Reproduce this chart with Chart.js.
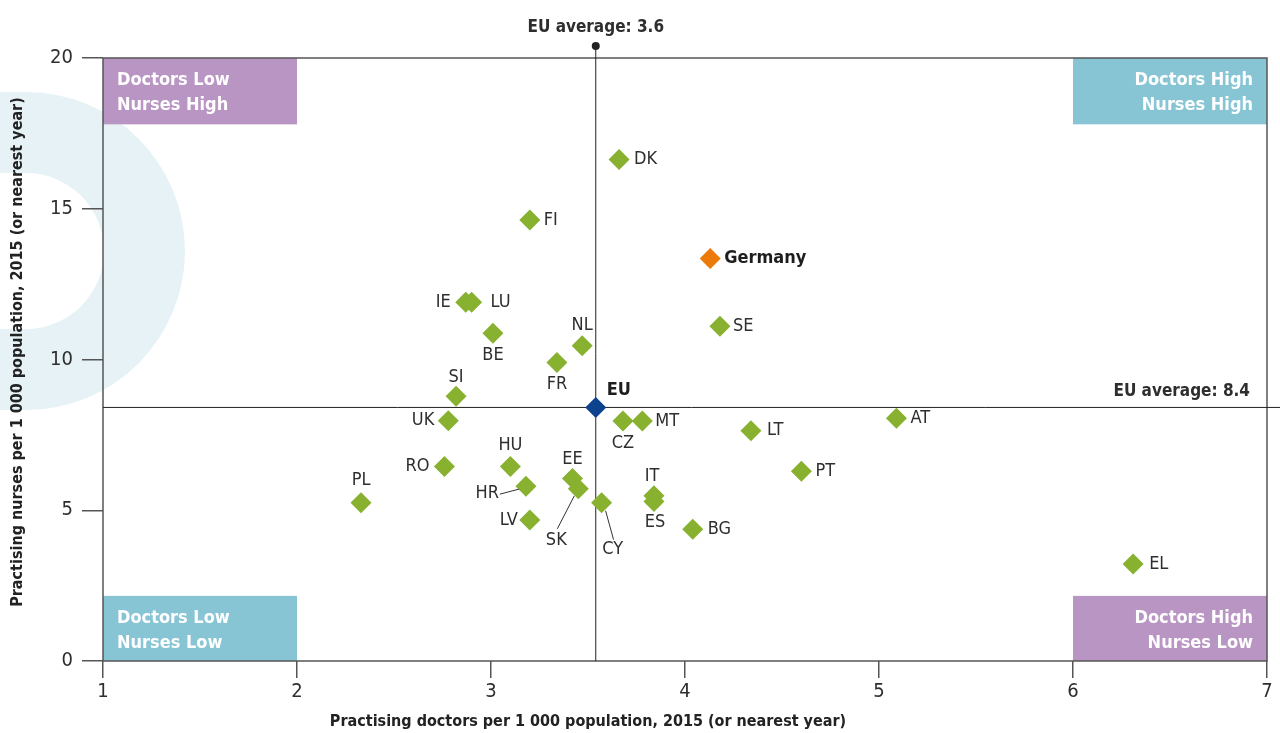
<!DOCTYPE html>
<html>
<head>
<meta charset="utf-8">
<title>Doctors and nurses per 1 000 population</title>
<script src="https://cdn.jsdelivr.net/npm/chart.js"></script>
<style>
  html, body { margin: 0; padding: 0; background: #fff; }
</style>
</head>
<body>
<canvas id="chart" width="1280" height="733"></canvas>
<script>
// values
const countries = ["DK", "FI", "Germany", "IE", "LU", "BE", "SE", "NL", "FR", "SI", "EU", "UK", "CZ", "MT", "LT",
  "AT", "RO", "HU", "PT", "HR", "EE", "SK", "IT", "ES", "CY", "PL", "LV", "BG", "EL"];
const doctors = [3.66, 3.20, 4.13, 2.87, 2.90, 3.01, 4.18, 3.47, 3.34, 2.82, 3.54, 2.78, 3.68, 3.78, 4.34,
  5.09, 2.76, 3.10, 4.60, 3.18, 3.42, 3.45, 3.84, 3.84, 3.57, 2.33, 3.20, 4.04, 6.31];
const nurses = [16.63, 14.63, 13.35, 11.90, 11.90, 10.87, 11.10, 10.46, 9.90, 8.78, 8.41, 7.97, 7.96, 7.96, 7.64,
  8.05, 6.45, 6.45, 6.29, 5.80, 6.05, 5.71, 5.48, 5.29, 5.25, 5.25, 4.68, 4.37, 3.22];
const euDoctors = 3.54;
const euNurses = 8.41;
const xTicks = [1, 2, 3, 4, 5, 6, 7];
const yTicks = [0, 5, 10, 15, 20];

const GREEN = "#87b12f", ORANGE = "#ec7a08", NAVY = "#0d428c";
const TEXT = "#2e2e2e";
const FONT = "'Liberation Sans Narrow', 'DejaVu Sans Condensed', 'Roboto', sans-serif";

// label placement (pixel offsets from the marker), leader = line from label to marker
const labelPos = {
  DK: [15, 0, "left"], FI: [14, 0, "left"], Germany: [14, 0, "left", true], IE: [-15, 0, "right"],
  LU: [19, 0, "left"], BE: [0, 22, "center"], SE: [13, 0, "left"], NL: [0, -20, "center"],
  FR: [0, 22, "center"], SI: [0, -19, "center"], EU: [11, -17, "left", true], UK: [-14, 0, "right"],
  CZ: [0, 22, "center"], MT: [13, 0, "left"], LT: [16, 0, "left"], AT: [14, 0, "left"],
  RO: [-15, 0, "right"], HU: [0, -21, "center"], PT: [14, 0, "left"], HR: [-27, 7, "right"],
  EE: [0, -19, "center"], SK: [-22, 51, "center"], IT: [-2, -19, "center"], ES: [1, 21, "center"],
  CY: [11, 47, "center"], PL: [0, -22, "center"], LV: [-12, 0, "right"], BG: [15, 0, "left"],
  EL: [16, 0, "left"]
};
const leaders = {
  HR: [[-26, 8], [-7, 3]],
  SK: [[-21, 40], [-4, 7]],
  CY: [[4, 8], [12, 37]]
};

const quadrants = [
  { x0: 1, x1: 2, y0: 17.8, y1: 20, color: "#b995c4", lines: ["Doctors Low", "Nurses High"], align: "left" },
  { x0: 6, x1: 7, y0: 17.8, y1: 20, color: "#87c5d5", lines: ["Doctors High", "Nurses High"], align: "right" },
  { x0: 1, x1: 2, y0: 0, y1: 2.16, color: "#87c5d5", lines: ["Doctors Low", "Nurses Low"], align: "left" },
  { x0: 6, x1: 7, y0: 0, y1: 2.16, color: "#b995c4", lines: ["Doctors High", "Nurses Low"], align: "right" }
];

const points = countries.map((c, i) => ({ x: doctors[i], y: nurses[i], c }));
const colors = countries.map(c => c === "Germany" ? ORANGE : c === "EU" ? NAVY : GREEN);

const decor = {
  id: "decor",
  beforeDraw(chart) {
    const ctx = chart.ctx;
    ctx.save();
    ctx.fillStyle = "#e6f2f6";
    ctx.beginPath();
    ctx.moveTo(0, 92);
    ctx.lineTo(26, 92);
    ctx.arc(26, 251, 159, -Math.PI / 2, Math.PI / 2);
    ctx.lineTo(0, 410);
    ctx.closePath();
    ctx.moveTo(0, 173);
    ctx.lineTo(26, 173);
    ctx.arc(26, 251, 78, -Math.PI / 2, Math.PI / 2);
    ctx.lineTo(0, 329);
    ctx.closePath();
    ctx.fill("evenodd");
    ctx.restore();
  },
  beforeDatasetsDraw(chart) {
    const { ctx, chartArea: a, scales: { x, y } } = chart;
    ctx.save();
    quadrants.forEach(q => {
      const l = x.getPixelForValue(q.x0), r = x.getPixelForValue(q.x1);
      const t = y.getPixelForValue(q.y1), b = y.getPixelForValue(q.y0);
      ctx.fillStyle = q.color;
      ctx.fillRect(l, t, r - l, b - t);
      ctx.fillStyle = "#fff";
      ctx.font = "bold 18px " + FONT;
      ctx.textBaseline = "middle";
      ctx.textAlign = q.align;
      const tx = q.align === "left" ? l + 14 : r - 14;
      ctx.fillText(q.lines[0], tx, t + 22);
      ctx.fillText(q.lines[1], tx, t + 47);
    });

    // frame
    ctx.strokeStyle = "#555";
    ctx.lineWidth = 1.5;
    ctx.strokeRect(a.left, a.top, a.right - a.left, a.bottom - a.top);

    // EU average lines
    const ex = x.getPixelForValue(euDoctors), ey = y.getPixelForValue(euNurses);
    ctx.strokeStyle = "#222";
    ctx.lineWidth = 1;
    ctx.beginPath();
    ctx.moveTo(ex, a.top - 12);
    ctx.lineTo(ex, a.bottom);
    ctx.moveTo(a.left, ey);
    ctx.lineTo(chart.width, ey);
    ctx.stroke();
    ctx.fillStyle = "#222";
    ctx.beginPath();
    ctx.arc(ex, a.top - 12, 4, 0, Math.PI * 2);
    ctx.fill();

    ctx.font = "bold 17px " + FONT;
    ctx.fillStyle = TEXT;
    ctx.textBaseline = "middle";
    ctx.textAlign = "center";
    ctx.fillText("EU average: 3.6", ex, a.top - 30);
    ctx.textAlign = "right";
    ctx.fillText("EU average: 8.4", 1250, ey - 16);

    // axis titles
    ctx.font = "bold 16px " + FONT;
    ctx.fillStyle = "#222";
    ctx.textAlign = "center";
    ctx.fillText("Practising doctors per 1 000 population, 2015 (or nearest year)", 588, 722);
    ctx.translate(18, 352);
    ctx.rotate(-Math.PI / 2);
    ctx.fillText("Practising nurses per 1 000 population, 2015 (or nearest year)", 0, 0);
    ctx.restore();
  },
  afterDatasetsDraw(chart) {
    const ctx = chart.ctx;
    const meta = chart.getDatasetMeta(0);
    ctx.save();
    ctx.textBaseline = "middle";
    meta.data.forEach((el, i) => {
      const c = countries[i];
      const p = labelPos[c];
      ctx.font = (p[3] ? "bold 18px " : "18px ") + FONT;
      ctx.fillStyle = c === "Germany" || c === "EU" ? "#1e1e1e" : TEXT;
      ctx.textAlign = p[2];
      ctx.fillText(c, el.x + p[0], el.y + p[1]);
      if (leaders[c]) {
        const [s, e] = leaders[c];
        ctx.strokeStyle = "#333";
        ctx.lineWidth = 1;
        ctx.beginPath();
        ctx.moveTo(el.x + s[0], el.y + s[1]);
        ctx.lineTo(el.x + e[0], el.y + e[1]);
        ctx.stroke();
      }
    });
    ctx.restore();
  }
};

new Chart(document.getElementById("chart"), {
  type: "scatter",
  data: {
    datasets: [{
      data: points,
      pointStyle: "rectRot",
      pointRadius: 10.5,
      pointHoverRadius: 10.5,
      pointBackgroundColor: colors,
      pointBorderColor: colors,
      pointBorderWidth: 0
    }]
  },
  options: {
    responsive: false,
    animation: false,
    layout: { padding: { top: 58, right: 13, left: 0, bottom: 0 } },
    plugins: { legend: { display: false }, tooltip: { enabled: false } },
    scales: {
      x: {
        type: "linear",
        min: 1,
        max: 7,
        afterBuildTicks: s => { s.ticks = xTicks.map(v => ({ value: v })); },
        afterFit: s => { s.height = 72; },
        border: { display: false },
        grid: { drawOnChartArea: false, tickLength: 17, color: "#555", lineWidth: 1.5 },
        ticks: { color: TEXT, padding: 2, font: { family: FONT, size: 20 } }
      },
      y: {
        type: "linear",
        min: 0,
        max: 20,
        afterBuildTicks: s => { s.ticks = yTicks.map(v => ({ value: v })); },
        afterFit: s => { s.width = 103; },
        border: { display: false },
        grid: { drawOnChartArea: false, tickLength: 21, color: "#555", lineWidth: 1.5 },
        ticks: { color: TEXT, padding: 9, font: { family: FONT, size: 20 } }
      }
    }
  },
  plugins: [decor]
});
</script>
</body>
</html>
